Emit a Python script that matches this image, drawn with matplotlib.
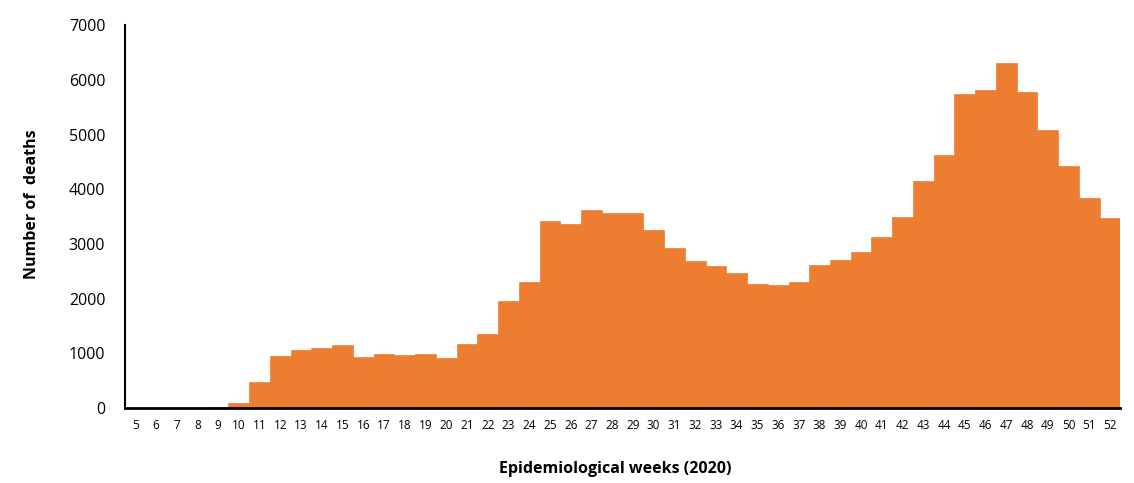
import matplotlib.pyplot as plt

weeks = list(range(5, 53))
deaths = [0, 0, 0, 0, 25, 100, 486, 956, 1066, 1102, 1157, 938, 993, 975, 993, 920,
          1176, 1358, 1962, 2309, 3424, 3369, 3625, 3570, 3570, 3260, 2930, 2693,
          2601, 2474, 2272, 2254, 2309, 2620, 2711, 2845, 3131, 3497, 4155, 4631,
          5746, 5819, 6313, 5782, 5075, 4430, 3845, 3479]

plt.rcParams['font.family'] = ['Open Sans', 'DejaVu Sans']

fig = plt.figure(figsize=(11.34, 4.83), dpi=100)
ax = fig.add_axes([0.110, 0.155, 0.878, 0.793])

x = list(range(len(weeks)))
ax.bar(x, deaths, width=1.0, color='#ED7D31', edgecolor='#ED7D31', linewidth=0.5)

ax.set_xlim(-0.5, len(weeks) - 0.5)
ax.set_ylim(0, 7000)
ax.set_yticks(range(0, 7001, 1000))
ax.set_xticks(x)
ax.set_xticklabels([str(w) for w in weeks], fontsize=8.5)
ax.tick_params(axis='y', labelsize=11.5, length=0, pad=14)
ax.tick_params(axis='x', length=0, pad=8)

for s in ['top', 'right']:
    ax.spines[s].set_visible(False)
ax.spines['left'].set_linewidth(1.5)
ax.spines['bottom'].set_linewidth(2)

ax.set_ylabel('Number of  deaths', fontsize=11.5, fontweight='bold')
ax.set_xlabel('Epidemiological weeks (2020)', fontsize=11.5, fontweight='bold')
ax.yaxis.set_label_coords(-0.0855, 0.533)
ax.xaxis.set_label_coords(0.4925, -0.137)

fig.savefig('out.png', dpi=100)
